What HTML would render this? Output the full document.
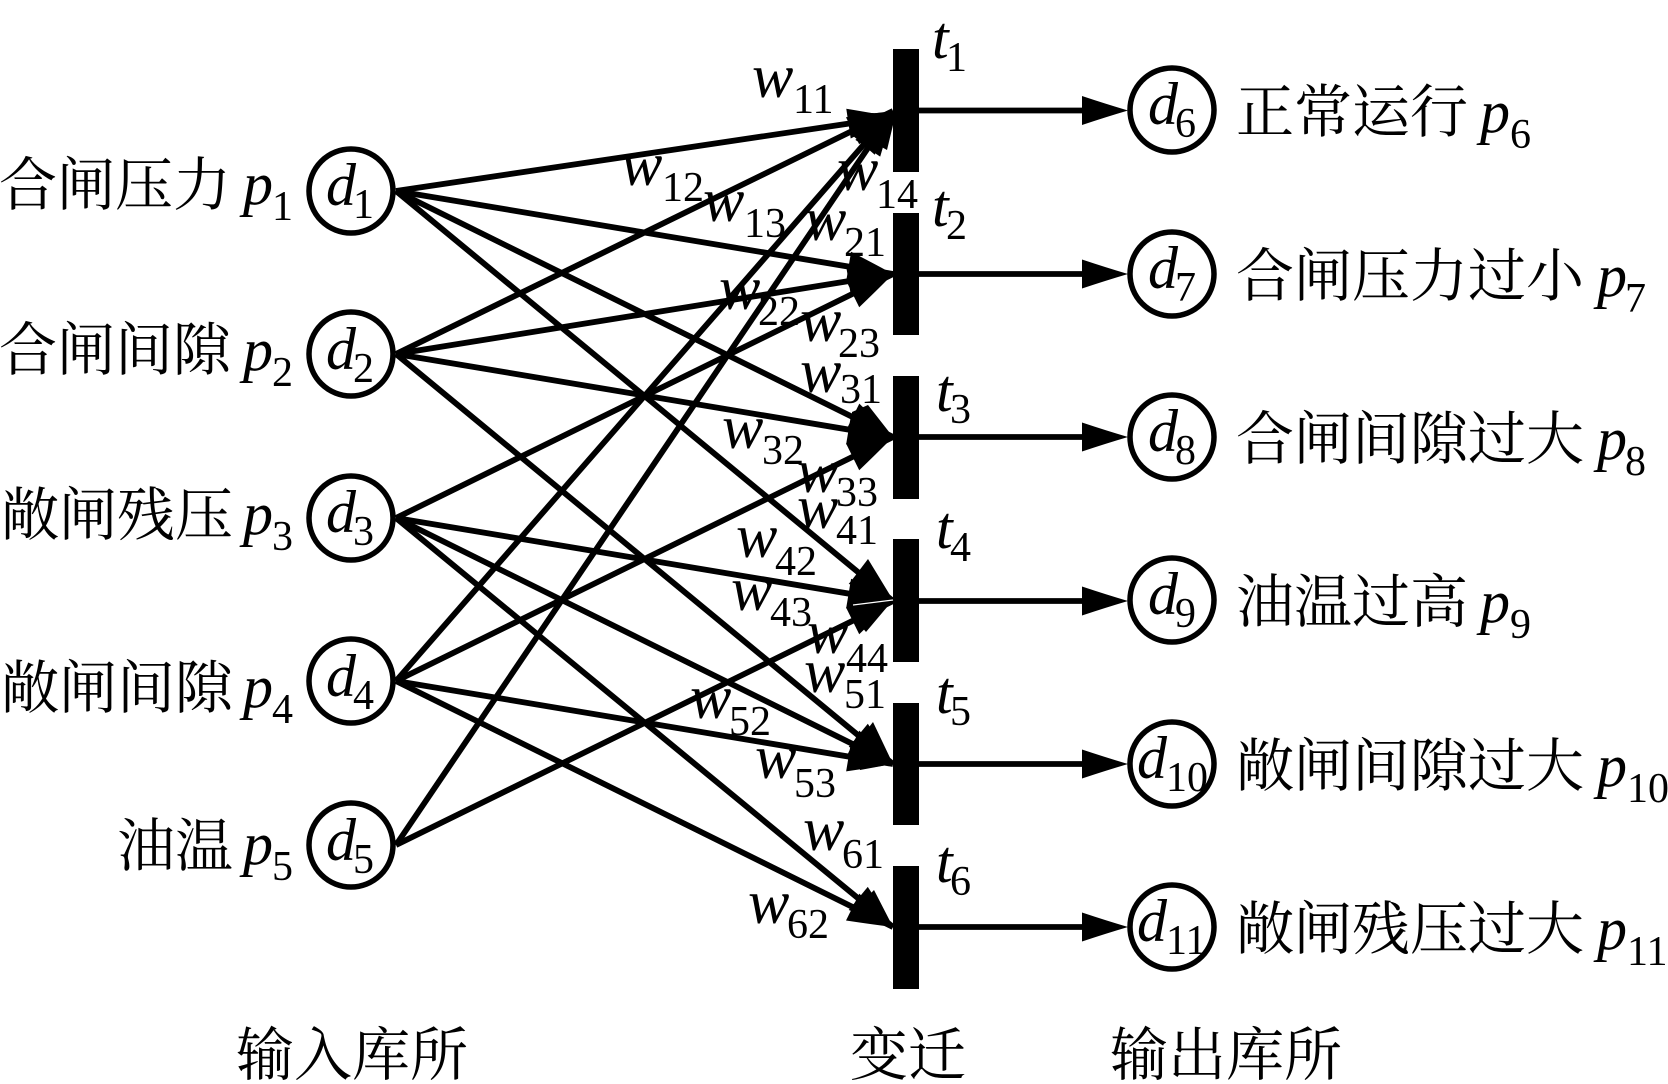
<!DOCTYPE html>
<html><head><meta charset="utf-8"><style>
html,body{margin:0;padding:0;background:#fff}
svg{display:block}
text{fill:#000}
.c{font-family:"Liberation Serif","Noto Serif CJK SC",serif;font-size:58px}
.i{font-family:"Liberation Serif",serif;font-style:italic;font-size:60px}
.w{font-family:"Liberation Serif",serif;font-style:italic;font-size:62px}
.s{font-family:"Liberation Serif",serif;font-size:42px}
line{stroke:#000;stroke-width:5.8}
circle{fill:#fff;stroke:#000;stroke-width:5.5}
</style></head><body>
<svg width="1668" height="1084" viewBox="0 0 1668 1084" xmlns="http://www.w3.org/2000/svg">
<defs><marker id="a" markerUnits="userSpaceOnUse" markerWidth="50" markerHeight="34" refX="45" refY="17" orient="auto" overflow="visible"><path d="M0,2 Q25,10 45,17 Q25,24 0,32 Z" fill="#000"/></marker></defs>
<rect width="1668" height="1084" fill="#fff"/>
<line x1="396" y1="191" x2="893" y2="117" marker-end="url(#a)"/>
<line x1="396" y1="354" x2="893" y2="111" marker-end="url(#a)"/>
<line x1="396" y1="681" x2="893" y2="111" marker-end="url(#a)"/>
<line x1="396" y1="845" x2="893" y2="111" marker-end="url(#a)"/>
<line x1="396" y1="191" x2="893" y2="274" marker-end="url(#a)"/>
<line x1="396" y1="354" x2="893" y2="274" marker-end="url(#a)"/>
<line x1="396" y1="518" x2="893" y2="274" marker-end="url(#a)"/>
<line x1="396" y1="191" x2="893" y2="437" marker-end="url(#a)"/>
<line x1="396" y1="354" x2="893" y2="437" marker-end="url(#a)"/>
<line x1="396" y1="681" x2="893" y2="437" marker-end="url(#a)"/>
<line x1="396" y1="191" x2="893" y2="601" marker-end="url(#a)"/>
<line x1="396" y1="518" x2="893" y2="601" marker-end="url(#a)"/>
<line x1="396" y1="845" x2="893" y2="601" marker-end="url(#a)"/>
<line x1="396" y1="354" x2="893" y2="764" marker-end="url(#a)"/>
<line x1="396" y1="518" x2="893" y2="764" marker-end="url(#a)"/>
<line x1="396" y1="681" x2="893" y2="764" marker-end="url(#a)"/>
<line x1="396" y1="518" x2="893" y2="927" marker-end="url(#a)"/>
<line x1="396" y1="681" x2="893" y2="927" marker-end="url(#a)"/>
<g fill="#000">
<path d="M847,109 Q872,116 893,111 L893,125 L887,150 L860,135 L850,126 Z"/>
<path d="M855,262 L893,273 L860,295 L850,280 Z"/>
<path d="M852,412 L868,405 L893,437 L866,463 L852,445 Z"/>
<path d="M852,580 L868,559 L893,600 L866,632 L852,615 Z"/>
<path d="M856,744 L873,722 L893,764 L860,770 Z"/>
<path d="M848,917 L874,890 L893,927 Q870,919 848,917 Z"/>
<rect x="893" y="49" width="26" height="123"/>
<rect x="893" y="213" width="26" height="122"/>
<rect x="893" y="376" width="26" height="123"/>
<rect x="893" y="539" width="26" height="123"/>
<rect x="893" y="703" width="26" height="122"/>
<rect x="893" y="866" width="26" height="123"/>
</g>
<line x1="853" y1="605" x2="893" y2="600" style="stroke:#fff;stroke-width:1.2"/>
<line x1="918" y1="110.500" x2="1090" y2="110.500"/>
<line x1="918" y1="274" x2="1090" y2="274"/>
<line x1="918" y1="437" x2="1090" y2="437"/>
<line x1="918" y1="601" x2="1090" y2="601"/>
<line x1="918" y1="764" x2="1090" y2="764"/>
<line x1="918" y1="927" x2="1090" y2="927"/>
<g fill="#000">
<path d="M1082,96 Q1106,104 1128,110.500 Q1106,117 1082,125 Z"/>
<path d="M1082,259.500 Q1106,267.500 1128,274 Q1106,280.500 1082,288.500 Z"/>
<path d="M1082,422.500 Q1106,430.500 1128,437 Q1106,443.500 1082,451.500 Z"/>
<path d="M1082,586.500 Q1106,594.500 1128,601 Q1106,607.500 1082,615.500 Z"/>
<path d="M1082,749.500 Q1106,757.500 1128,764 Q1106,770.500 1082,778.500 Z"/>
<path d="M1082,912.500 Q1106,920.500 1128,927 Q1106,933.500 1082,941.500 Z"/>
</g>
<circle cx="351" cy="191" r="42"/><circle cx="351" cy="354" r="42"/><circle cx="351" cy="518" r="42"/><circle cx="351" cy="681" r="42"/><circle cx="351" cy="845" r="42"/>
<circle cx="1172" cy="110" r="42"/><circle cx="1172" cy="274" r="42"/><circle cx="1172" cy="437" r="42"/><circle cx="1172" cy="600" r="42"/><circle cx="1172" cy="764" r="42"/><circle cx="1172" cy="927" r="42"/>

<text class="i" x="326" y="205">d</text><text class="s" x="353" y="218">1</text>
<text class="i" x="326" y="369">d</text><text class="s" x="353" y="382">2</text>
<text class="i" x="326" y="532">d</text><text class="s" x="353" y="545">3</text>
<text class="i" x="326" y="696">d</text><text class="s" x="353" y="709">4</text>
<text class="i" x="326" y="860">d</text><text class="s" x="353" y="873">5</text>
<text class="i" x="1148" y="124">d</text><text class="s" x="1175" y="137">6</text>
<text class="i" x="1148" y="288">d</text><text class="s" x="1175" y="301">7</text>
<text class="i" x="1148" y="451">d</text><text class="s" x="1175" y="464">8</text>
<text class="i" x="1148" y="614">d</text><text class="s" x="1175" y="627">9</text>
<text class="i" x="1137" y="778">d</text><text class="s" x="1166" y="791">10</text>
<text class="i" x="1137" y="941">d</text><text class="s" x="1166" y="954">11</text>

<text class="c" x="-1" y="205">合闸压力</text>
<text class="c" x="-1" y="370">合闸间隙</text>
<text class="c" x="1" y="535">敞闸残压</text>
<text class="c" x="1" y="708">敞闸间隙</text>
<text class="c" x="117" y="866">油温</text>
<text class="i" x="243" y="204">p</text><text class="s" x="272" y="220">1</text>
<text class="i" x="243" y="370">p</text><text class="s" x="272" y="386">2</text>
<text class="i" x="243" y="534">p</text><text class="s" x="272" y="550">3</text>
<text class="i" x="243" y="707">p</text><text class="s" x="272" y="723">4</text>
<text class="i" x="243" y="864">p</text><text class="s" x="272" y="880">5</text>

<text class="c" x="1236" y="132">正常运行</text>
<text class="c" x="1236" y="296">合闸压力过小</text>
<text class="c" x="1236" y="459">合闸间隙过大</text>
<text class="c" x="1236" y="622">油温过高</text>
<text class="c" x="1236" y="786">敞闸间隙过大</text>
<text class="c" x="1236" y="949">敞闸残压过大</text>
<text class="i" x="1480" y="132">p</text><text class="s" x="1510" y="148">6</text>
<text class="i" x="1597" y="296">p</text><text class="s" x="1625" y="312">7</text>
<text class="i" x="1597" y="459">p</text><text class="s" x="1625" y="475">8</text>
<text class="i" x="1480" y="622">p</text><text class="s" x="1510" y="638">9</text>
<text class="i" x="1597" y="786">p</text><text class="s" x="1627" y="802">10</text>
<text class="i" x="1597" y="949">p</text><text class="s" x="1627" y="965">11</text>

<text class="i" x="932" y="58">t</text><text class="s" x="946" y="71">1</text>
<text class="i" x="932" y="226">t</text><text class="s" x="946" y="239">2</text>
<text class="i" x="936" y="411">t</text><text class="s" x="950" y="423">3</text>
<text class="i" x="936" y="548">t</text><text class="s" x="950" y="561">4</text>
<text class="i" x="936" y="713">t</text><text class="s" x="950" y="725">5</text>
<text class="i" x="936" y="882">t</text><text class="s" x="950" y="895">6</text>

<text class="w" x="752" y="97">w</text><text class="s" x="793" y="113">11</text>
<text class="w" x="621" y="185">w</text><text class="s" x="662" y="201">12</text>
<text class="w" x="703" y="221">w</text><text class="s" x="744" y="237">13</text>
<text class="w" x="837" y="190">w</text><text class="s" x="876" y="208">14</text>
<text class="w" x="805" y="240">w</text><text class="s" x="844" y="256">21</text>
<text class="w" x="719" y="309">w</text><text class="s" x="758" y="325">22</text>
<text class="w" x="800" y="341">w</text><text class="s" x="838" y="357">23</text>
<text class="w" x="800" y="392">w</text><text class="s" x="840" y="403">31</text>
<text class="w" x="722" y="448">w</text><text class="s" x="762" y="464">32</text>
<text class="w" x="797" y="492">w</text><text class="s" x="836" y="506">33</text>
<text class="w" x="797" y="528">w</text><text class="s" x="836" y="544">41</text>
<text class="w" x="736" y="557">w</text><text class="s" x="775" y="575">42</text>
<text class="w" x="731" y="610">w</text><text class="s" x="770" y="626">43</text>
<text class="w" x="807" y="653">w</text><text class="s" x="846" y="672">44</text>
<text class="w" x="804" y="692">w</text><text class="s" x="844" y="708">51</text>
<text class="w" x="690" y="718">w</text><text class="s" x="729" y="735">52</text>
<text class="w" x="755" y="778">w</text><text class="s" x="794" y="797">53</text>
<text class="w" x="803" y="850">w</text><text class="s" x="842" y="868">61</text>
<text class="w" x="748" y="923">w</text><text class="s" x="787" y="938">62</text>

<text class="c" x="236" y="1075">输入库所</text>
<text class="c" x="850" y="1075">变迁</text>
<text class="c" x="1110" y="1075">输出库所</text>
</svg>
</body></html>
